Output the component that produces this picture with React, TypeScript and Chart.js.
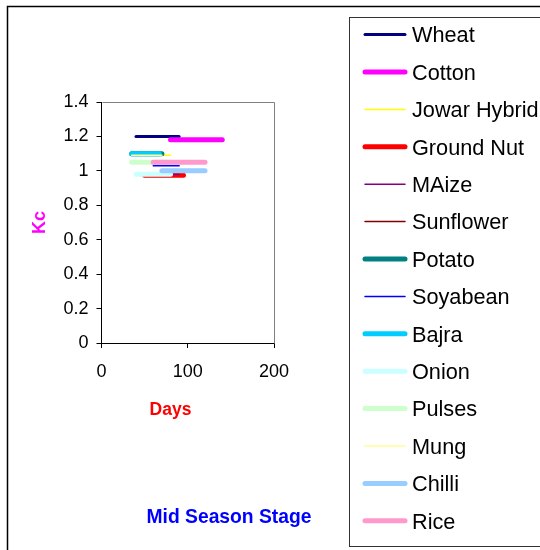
import React, { useEffect, useRef } from "react";
import { Chart, registerables } from "chart.js";

Chart.register(...registerables);

// Mid-season stage of each crop: start day, end day and crop coefficient (Kc)
const crops = [
  "Wheat",
  "Cotton",
  "Jowar Hybrid",
  "Ground Nut",
  "MAize",
  "Sunflower",
  "Potato",
  "Soyabean",
  "Bajra",
  "Onion",
  "Pulses",
  "Mung",
  "Chilli",
  "Rice",
];
const startDays = [40, 80, 35, 50, 50, 45, 35, 60, 35, 40, 35, 35, 70, 60];
const endDays = [90, 140, 80, 95, 90, 80, 70, 90, 67, 80, 75, 70, 120, 120];
const kcValues = [1.2, 1.18, 1.09, 0.975, 0.98, 0.98, 1.1, 1.03, 1.1, 0.98, 1.05, 1.09, 1.0, 1.05];
const colors = [
  "#000080",
  "#FF00FF",
  "#FFFF00",
  "#FF0000",
  "#800080",
  "#800000",
  "#008080",
  "#0000FF",
  "#00CCFF",
  "#CCFFFF",
  "#CCFFCC",
  "#FFFF99",
  "#99CCFF",
  "#FF99CC",
];
const lineWidths = [3, 5, 1.5, 5, 1.5, 1.5, 5, 1.5, 5, 5, 5, 1.5, 5, 5];

const xTicks = [0, 100, 200];
const yTicks = [0, 0.2, 0.4, 0.6, 0.8, 1, 1.2, 1.4];

const FONT = "'Liberation Sans', Arial, Helvetica, sans-serif";

const decorPlugin = {
  id: "decor",
  beforeDraw(chart: any) {
    const ctx = chart.ctx;
    ctx.save();
    ctx.fillStyle = "#ffffff";
    ctx.fillRect(0, 0, chart.width, chart.height);
    ctx.restore();
  },
  afterDraw(chart: any) {
    const ctx = chart.ctx;
    const { left, top, right, bottom } = chart.chartArea;
    ctx.save();

    // plot area frame (top and right sides)
    ctx.strokeStyle = "#808080";
    ctx.lineWidth = 1;
    ctx.beginPath();
    ctx.moveTo(Math.round(left) + 0.5, Math.round(top) + 0.5);
    ctx.lineTo(Math.round(right) + 0.5, Math.round(top) + 0.5);
    ctx.lineTo(Math.round(right) + 0.5, Math.round(bottom) + 0.5);
    ctx.stroke();

    // outer chart frame
    ctx.strokeStyle = "#000000";
    ctx.lineWidth = 1.5;
    ctx.beginPath();
    ctx.moveTo(7.5, chart.height + 2);
    ctx.lineTo(7.5, 6.5);
    ctx.lineTo(chart.width + 2, 6.5);
    ctx.stroke();

    // legend box
    ctx.strokeStyle = "#333333";
    ctx.lineWidth = 1;
    ctx.fillStyle = "#ffffff";
    ctx.fillRect(349.5, 17.5, 200, 529);
    ctx.strokeRect(349.5, 17.5, 200, 529);

    ctx.font = `21.7px ${FONT}`;
    ctx.textAlign = "left";
    ctx.textBaseline = "alphabetic";
    crops.forEach((name, i) => {
      const y = 34.6 + i * 37.4;
      ctx.strokeStyle = colors[i];
      ctx.lineWidth = lineWidths[i];
      ctx.lineCap = "round";
      ctx.beginPath();
      ctx.moveTo(365, y);
      ctx.lineTo(405, y);
      ctx.stroke();
      ctx.fillStyle = "#000000";
      ctx.fillText(name, 412, y + 7.7);
    });

    // axis caption and stage caption
    ctx.textAlign = "center";
    ctx.fillStyle = "#FF0000";
    ctx.font = `bold 17.5px ${FONT}`;
    ctx.fillText("Days", 170.5, 415);

    ctx.fillStyle = "#0000FF";
    ctx.font = `bold 19.3px ${FONT}`;
    ctx.fillText("Mid Season Stage", 229, 523);

    ctx.restore();
  },
};

export default function App() {
  const canvasRef = useRef<HTMLCanvasElement | null>(null);

  useEffect(() => {
    const canvas = canvasRef.current;
    if (!canvas) return;

    const datasets = crops.map((name, i) => ({
      label: name,
      data: [
        { x: startDays[i], y: kcValues[i] },
        { x: endDays[i], y: kcValues[i] },
      ],
      showLine: true,
      borderColor: colors[i],
      backgroundColor: colors[i],
      borderWidth: lineWidths[i],
      borderCapStyle: "round" as const,
      pointRadius: 0,
      pointHoverRadius: 0,
      fill: false,
      tension: 0,
      order: crops.length - i,
    }));

    const chart = new Chart(canvas, {
      type: "scatter",
      data: { datasets },
      options: {
        responsive: false,
        animation: false,
        events: [],
        layout: { padding: { left: 0, top: 102, right: 266, bottom: 167 } },
        plugins: {
          legend: { display: false },
          tooltip: { enabled: false },
        },
        scales: {
          x: {
            type: "linear",
            min: 0,
            max: 200,
            afterBuildTicks: (scale: any) => {
              scale.ticks = xTicks.map((v) => ({ value: v }));
            },
            afterFit: (scale: any) => {
              scale.height = 40;
            },
            grid: {
              drawOnChartArea: false,
              drawTicks: true,
              tickLength: 5,
              color: "#000000",
            },
            border: { display: true, color: "#000000", width: 1 },
            ticks: {
              color: "#000000",
              font: { family: FONT, size: 18 },
              padding: 13,
              maxRotation: 0,
              autoSkip: false,
              callback: (v: any) => String(v),
            },
          },
          y: {
            type: "linear",
            min: 0,
            max: 1.4,
            afterBuildTicks: (scale: any) => {
              scale.ticks = yTicks.map((v) => ({ value: v }));
            },
            afterFit: (scale: any) => {
              scale.width = 101.5;
            },
            grid: {
              drawOnChartArea: false,
              drawTicks: true,
              tickLength: 5,
              color: "#000000",
            },
            border: { display: true, color: "#000000", width: 1 },
            ticks: {
              color: "#000000",
              font: { family: FONT, size: 18 },
              padding: 8,
              autoSkip: false,
              callback: (v: any) => String(Math.round(Number(v) * 10) / 10),
            },
            title: {
              display: true,
              text: "Kc",
              color: "#FF00FF",
              font: { family: FONT, size: 18, weight: "bold" },
              padding: { top: 29, bottom: 0 },
            },
          },
        },
      },
      plugins: [decorPlugin],
    });

    return () => {
      chart.destroy();
    };
  }, []);

  return (
    <div style={{ position: "absolute", left: 0, top: 0, width: 540, height: 550 }}>
      <canvas ref={canvasRef} width={540} height={550} style={{ display: "block" }} />
    </div>
  );
}
